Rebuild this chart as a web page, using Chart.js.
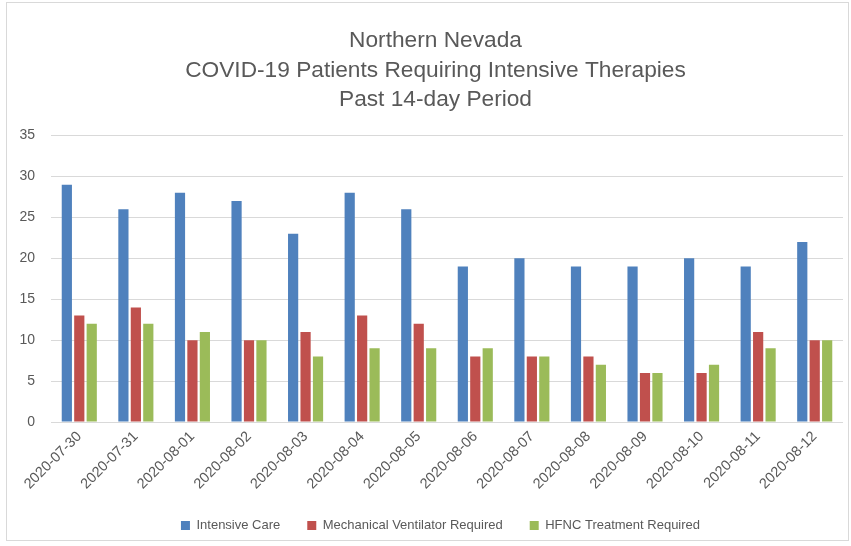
<!DOCTYPE html>
<html>
<head>
<meta charset="utf-8">
<script src="https://cdn.jsdelivr.net/npm/chart.js@4/dist/chart.umd.min.js"></script>
<style>
  body { margin: 0; background: #fff; }
  #wrap { position: relative; width: 851px; height: 546px; }
  #frame { position: absolute; left: 6px; top: 2px; width: 841px; height: 537px; border: 1px solid #d9d9d9; pointer-events: none; }
</style>
</head>
<body>
<div id="wrap">
  <canvas id="covidChart" width="851" height="546"></canvas>
  <div id="frame"></div>
</div>
<script>
// dates on the x axis
const days = ['2020-07-30', '2020-07-31', '2020-08-01', '2020-08-02', '2020-08-03', '2020-08-04', '2020-08-05',
  '2020-08-06', '2020-08-07', '2020-08-08', '2020-08-09', '2020-08-10', '2020-08-11', '2020-08-12'];

// patients per day
const intensiveCare = [29, 26, 28, 27, 23, 28, 26, 19, 20, 19, 19, 20, 19, 22];
const ventilator = [13, 14, 10, 10, 11, 13, 12, 8, 8, 8, 6, 6, 11, 10];
const hfnc = [12, 12, 11, 10, 8, 9, 9, 9, 8, 7, 6, 7, 9, 10];

const titleLines = ['Northern Nevada', 'COVID-19 Patients Requiring Intensive Therapies', 'Past 14-day Period'];

const textGray = '#595959';
const fontFam = "'Liberation Sans', Arial, sans-serif";

// the original title and legend sit a bit right of the canvas middle
const nudgeBlocks = {
  id: 'nudgeBlocks',
  afterLayout(chart) {
    chart.titleBlock.left += 7;
    chart.titleBlock.right += 7;
    chart.legend.left += 12;
    chart.legend.right += 12;
  }
};

const ctx = document.getElementById('covidChart').getContext('2d');
const chart = new Chart(ctx, {
  type: 'bar',
  data: {
    labels: days,
    datasets: [
      { label: 'Intensive Care', data: intensiveCare, backgroundColor: '#4F81BD' },
      { label: 'Mechanical Ventilator Required', data: ventilator, backgroundColor: '#C0504D' },
      { label: 'HFNC Treatment Required', data: hfnc, backgroundColor: '#9BBB59' }
    ]
  },
  options: {
    responsive: false,
    animation: false,
    layout: { padding: { left: 14, right: 8, top: 26, bottom: 4 } },
    datasets: {
      bar: { categoryPercentage: 0.66, barPercentage: 0.82 }
    },
    plugins: {
      title: {
        display: true,
        text: titleLines,
        color: textGray,
        font: { family: fontFam, size: 22.7, weight: 'normal', lineHeight: 1.3 },
        padding: { top: 0, bottom: 21 }
      },
      legend: {
        position: 'bottom',
        labels: {
          color: textGray,
          boxWidth: 9,
          boxHeight: 9,
          padding: 27,
          font: { family: fontFam, size: 13 }
        }
      },
      tooltip: { enabled: false }
    },
    scales: {
      x: {
        grid: { display: false, drawTicks: false },
        border: { display: false },
        ticks: {
          color: textGray,
          minRotation: 45,
          maxRotation: 45,
          padding: 6,
          font: { family: fontFam, size: 14.5 }
        },
        afterFit: (axis) => { axis.height = 70; }
      },
      y: {
        min: 0,
        max: 35,
        grid: { color: '#d9d9d9', lineWidth: 1, drawTicks: false },
        border: { display: false },
        ticks: {
          stepSize: 5,
          color: textGray,
          padding: 16,
          font: { family: fontFam, size: 14 }
        },
        afterFit: (axis) => { axis.width = 37; }
      }
    }
  },
  plugins: [nudgeBlocks]
});
</script>
</body>
</html>
